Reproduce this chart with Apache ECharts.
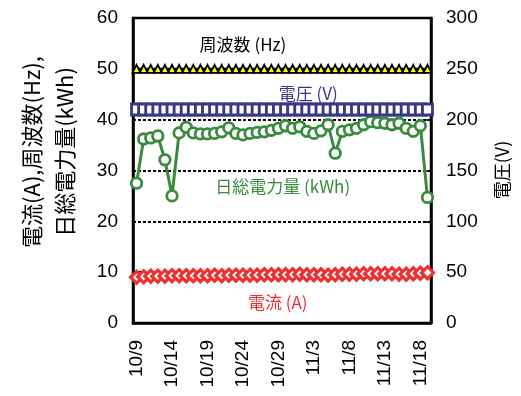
<!DOCTYPE html>
<html><head><meta charset="utf-8">
<script src="https://cdn.jsdelivr.net/npm/echarts@6/dist/echarts.min.js"></script>
<style>html,body{margin:0;padding:0;background:#fff}#c{width:521px;height:396px}</style>
</head><body><div id="c"></div>
<script>
const dates = ['10/9','10/10','10/11','10/12','10/13','10/14','10/15','10/16','10/17','10/18','10/19','10/20','10/21','10/22','10/23','10/24','10/25','10/26','10/27','10/28','10/29','10/30','10/31','11/1','11/2','11/3','11/4','11/5','11/6','11/7','11/8','11/9','11/10','11/11','11/12','11/13','11/14','11/15','11/16','11/17','11/18','11/19'];
const currentA = [9.0,9.1,9.2,9.2,9.2,9.3,9.3,9.3,9.3,9.3,9.3,9.4,9.3,9.4,9.4,9.4,9.4,9.4,9.5,9.5,9.5,9.5,9.5,9.6,9.5,9.5,9.5,9.4,9.5,9.6,9.6,9.6,9.7,9.7,9.7,9.7,9.7,9.6,9.6,9.7,9.8,9.9];
const frequencyHz = [50,50,50,50,50,50,50,50,50,50,50,50,50,50,50,50,50,50,50,50,50,50,50,50,50,50,50,50,50,50,50,50,50,50,50,50,50,50,50,50,50,50];
const dailyKWh = [27.5,36.2,36.4,36.8,32.1,25.0,37.4,38.5,37.4,37.2,37.2,37.3,37.6,38.4,37.3,37.0,37.3,37.5,37.6,37.9,38.3,38.8,38.3,38.6,37.7,37.3,37.8,39.0,33.4,37.7,38.0,38.3,39.0,39.6,39.4,39.3,39.0,39.3,38.3,37.7,38.8,24.7];
const voltageV = [210,210,210,210,210,210,210,210,210,210,210,210,210,210,210,210,210,210,210,210,210,210,210,210,210,210,210,210,210,210,210,210,210,210,210,210,210,210,210,210,210,210];
const leftTicks = [0,10,20,30,40,50,60];
const rightTicks = [0,50,100,150,200,250,300];

const NUM = 'Liberation Sans, Arial, sans-serif';
const JP = '"Noto Sans CJK JP", sans-serif';
const GREEN = '#3a8a3e', RED = '#ee3030', NAVY = '#38388a';

const chart = echarts.init(document.getElementById('c'), null, {renderer:'canvas'});
chart.setOption({
  animation:false,
  backgroundColor:'#fff',
  grid:{left:133,right:90,top:18,bottom:73,show:true,borderColor:'#000',borderWidth:2.5,backgroundColor:'transparent'},
  xAxis:{type:'category',data:dates,boundaryGap:true,
    axisLine:{lineStyle:{color:'#000',width:2.5}},
    axisTick:{inside:true,length:5,interval:4,lineStyle:{color:'#000',width:2}},
    axisLabel:{interval:4,rotate:90,margin:17,color:'#000',fontFamily:NUM,fontSize:19},
    splitLine:{show:false}},
  yAxis:[
    {type:'value',min:leftTicks[0],max:leftTicks[leftTicks.length-1],interval:10,
     axisLine:{show:true,lineStyle:{color:'#000',width:2.5}},
     axisTick:{show:false},
     axisLabel:{margin:15,color:'#000',fontFamily:NUM,fontSize:19},
     splitLine:{show:true,lineStyle:{color:'#000',width:2,type:[3,2]}}},
    {type:'value',min:rightTicks[0],max:rightTicks[rightTicks.length-1],interval:50,position:'right',
     axisLine:{show:true,lineStyle:{color:'#000',width:2.5}},
     axisTick:{show:true,inside:true,length:5,lineStyle:{color:'#000',width:1.5}},
     axisLabel:{margin:15,color:'#000',fontFamily:NUM,fontSize:19},
     splitLine:{show:false}}
  ],
  series:[
    {name:'電流',type:'line',data:currentA,yAxisIndex:0,symbol:'diamond',symbolSize:12,showAllSymbol:true,
     lineStyle:{color:RED,width:2.5},itemStyle:{color:'#fff',borderColor:RED,borderWidth:3.2},z:2},
    {name:'周波数',type:'line',data:frequencyHz,yAxisIndex:0,symbol:'triangle',symbolSize:8,showAllSymbol:true,
     lineStyle:{color:'#000',width:2},itemStyle:{color:'#ffff00',borderColor:'#000',borderWidth:1.8},z:3},
    {name:'日総電力量',type:'line',data:dailyKWh,yAxisIndex:0,symbol:'circle',symbolSize:10.5,showAllSymbol:true,
     lineStyle:{color:GREEN,width:3},itemStyle:{color:'#fff',borderColor:GREEN,borderWidth:2.8},z:4},
    {name:'電圧',type:'line',data:voltageV,yAxisIndex:1,symbol:'rect',symbolSize:[10,11],showAllSymbol:true,
     lineStyle:{color:NAVY,width:2.5},itemStyle:{color:'#fff',borderColor:NAVY,borderWidth:3},z:5}
  ]
});

function px(idx, val, yi){
  const i0 = Math.floor(idx), f = idx - i0;
  const a = chart.convertToPixel({xAxisIndex:0,yAxisIndex:yi}, [i0, val]);
  const b = chart.convertToPixel({xAxisIndex:0,yAxisIndex:yi}, [i0+1, val]);
  return [a[0] + (b[0]-a[0])*f, a[1]];
}
const notes = [
  {t:'周波数 (Hz)', c:'#000', p:px(15,54.7,0)},
  {t:'電圧 (V)', c:NAVY, p:px(24.2,226,1)},
  {t:'日総電力量 (kWh)', c:GREEN, p:px(20.6,26.8,0)},
  {t:'電流 (A)', c:RED, p:px(19.9,4.1,0)}
];
const g = notes.map(n => ({type:'text',x:n.p[0],y:n.p[1],z:100,
  style:{text:n.t,fill:n.c,font:'17px '+JP,textAlign:'center',textVerticalAlign:'middle'}}));
g.push({type:'text',x:48,y:152,rotation:Math.PI/2,z:100,
  style:{text:'電流(A),周波数(Hz),\n日総電力量(kWh)',fill:'#000',font:'22px '+JP,lineHeight:33,textAlign:'center',textVerticalAlign:'middle'}});
g.push({type:'text',x:502,y:170,rotation:Math.PI/2,z:100,
  style:{text:'電圧(V)',fill:'#000',font:'18px '+JP,textAlign:'center',textVerticalAlign:'middle'}});
chart.setOption({graphic:g});
</script></body></html>
